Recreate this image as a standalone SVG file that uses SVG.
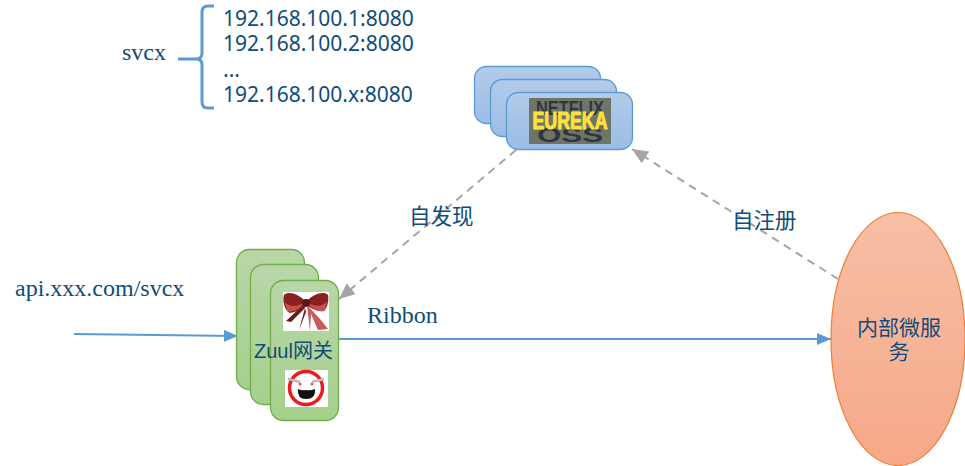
<svg xmlns="http://www.w3.org/2000/svg" width="965" height="466" viewBox="0 0 965 466">
<style>
.s{font-family:"Liberation Serif","Noto Sans CJK SC",serif;fill:#0f4c7a;font-size:24px}
.ip{font-size:21px;font-family:"Noto Sans",sans-serif;fill:#0f4c7a}
.cn{font-size:21.500px;font-family:"Noto Sans CJK SC",sans-serif;fill:#0f4c7a}
.g{fill:url(#gg);stroke:#70ad47;stroke-width:1.300}
.b{fill:url(#bg);stroke:#5b9bd5;stroke-width:1.300}
.d{fill:none;stroke:#a5a5a5;stroke-width:2;stroke-dasharray:8 6}
.l{fill:none;stroke:#5b9bd5;stroke-width:2}
.logo{font-family:"Liberation Sans",sans-serif;font-weight:700;text-anchor:middle}
</style>
<defs>
<linearGradient id="gg" x1="0" y1="0" x2="0" y2="1"><stop offset="0" stop-color="#b9d6a8"/><stop offset="1" stop-color="#a4d08c"/></linearGradient>
<linearGradient id="bg" x1="0" y1="0" x2="0" y2="1"><stop offset="0" stop-color="#b2cbe9"/><stop offset="1" stop-color="#9bbde6"/></linearGradient>
<linearGradient id="og" x1="0" y1="0" x2="0" y2="1"><stop offset="0" stop-color="#f6bfa6"/><stop offset="1" stop-color="#f7a888"/></linearGradient>
<marker id="ab" markerUnits="userSpaceOnUse" markerWidth="16" markerHeight="12" refX="14" refY="6" orient="auto"><path d="M0 0L14 6L0 12z" fill="#5b9bd5"/></marker>
<marker id="ag" markerUnits="userSpaceOnUse" markerWidth="18" markerHeight="14" refX="16" refY="7" orient="auto"><path d="M0 0L16 7L0 14z" fill="#a5a5a5"/></marker>
<clipPath id="lc"><rect x="529" y="98" width="82" height="46"/></clipPath>
</defs>
<g id="connectors">
<path class="l" d="M74 334L238 336" marker-end="url(#ab)"/>
<path class="l" d="M338 339L831 339" marker-end="url(#ab)"/>
<path class="d" d="M516 150L339 299" marker-end="url(#ag)"/>
<path class="d" d="M838 279L632 149" marker-end="url(#ag)"/>
</g>
<g id="svcx-brace">
<text class="s" x="122" y="60">svcx</text>
<path d="M178 59H200M214 6H208Q202 6 202 12V53Q202 59 196 59Q202 59 202 65V102Q202 108 208 108H214" fill="none" stroke="#5b9bd5" stroke-width="3"/>
<text class="ip" x="223" y="26">192.168.100.1:8080</text>
<text class="ip" x="223" y="51">192.168.100.2:8080</text>
<text class="ip" x="223" y="77">...</text>
<text class="ip" x="223" y="102">192.168.100.x:8080</text>
</g>
<g id="eureka">
<rect class="b" x="474.500" y="66.500" width="126" height="57" rx="12"/>
<rect class="b" x="490.500" y="79.500" width="126" height="57" rx="12"/>
<rect class="b" x="506.500" y="92.500" width="126" height="57" rx="12"/>
<rect x="529" y="98" width="82" height="46" fill="#6f7565"/>
<g clip-path="url(#lc)">
<text class="logo" x="570" y="115" font-size="20" fill="#2f3640" textLength="68" lengthAdjust="spacingAndGlyphs">NETFLIX</text>
<text class="logo" x="570" y="142" font-size="20" fill="#2f3640" textLength="66" lengthAdjust="spacingAndGlyphs">OSS</text>
<text class="logo" x="570" y="129" font-size="23" fill="#fde23f" stroke="#fde23f" stroke-width="1" textLength="75" lengthAdjust="spacingAndGlyphs">EUREKA</text>
</g>
</g>
<g id="zuul">
<rect class="g" x="236.500" y="249.500" width="68" height="140" rx="13"/>
<rect class="g" x="250.500" y="264.500" width="68" height="140" rx="13"/>
<rect class="g" x="270.500" y="280.500" width="68" height="140" rx="13"/>
<rect x="283" y="292" width="46" height="39" fill="#fff"/>
<path d="M304 304L286 321L291 322L305 308L299 330L306 312Z" fill="#6d1a1a"/>
<path d="M307 305L320 319L328 329L318 330L311 314L310 331Z" fill="#c85a5a"/>
<path d="M306 302C298 293 288 291 284 295C282 301 285 311 290 313C296 312 302 309 306 304C311 309 318 312 324 311C328 307 329 299 328 295C324 291 314 293 306 302Z" fill="#8a2020"/>
<path d="M285 302C290 308 298 306 304 303C300 310 290 313 287 311Z" fill="#c9504f"/>
<path d="M327 301C322 308 314 306 308 303C312 310 322 313 325 310Z" fill="#c9504f"/>
<ellipse cx="306" cy="303" rx="4" ry="4" fill="#611414"/>
<rect x="285" y="370" width="43" height="37" fill="#fff"/>
<circle cx="306" cy="388" r="16.500" fill="none" stroke="#ea1c1c" stroke-width="3.500"/>
<path d="M288 379L300 382M324 379L312 382" stroke="#bbb" stroke-width="2.500" fill="none"/>
<circle cx="300" cy="384" r="1.500" fill="#c66"/><circle cx="312" cy="384" r="1.500" fill="#c66"/>
<path d="M298 389Q302 391 306 390Q310 391 315 389Q316 399 306 399Q297 399 298 389Z" fill="#111"/>
<text x="254" y="358" font-size="20" font-family="Liberation Sans,'Noto Sans CJK SC',sans-serif" fill="#0f4c7a">Zuul网关</text>
</g>
<g id="service">
<ellipse cx="898" cy="339" rx="67" ry="126.500" fill="url(#og)" stroke="#ed7d31" stroke-width="1.200"/>
<text class="cn" x="899" y="335" text-anchor="middle" style="font-size:21px">内部微服</text>
<text class="cn" x="899" y="359" text-anchor="middle" style="font-size:21px">务</text>
</g>
<g id="labels">
<text class="s" x="15" y="296">api.xxx.com/svcx</text>
<text class="s" x="367" y="323">Ribbon</text>
<text class="cn" x="409" y="224">自发现</text>
<text class="cn" x="732" y="228">自注册</text>
</g>
</svg>
